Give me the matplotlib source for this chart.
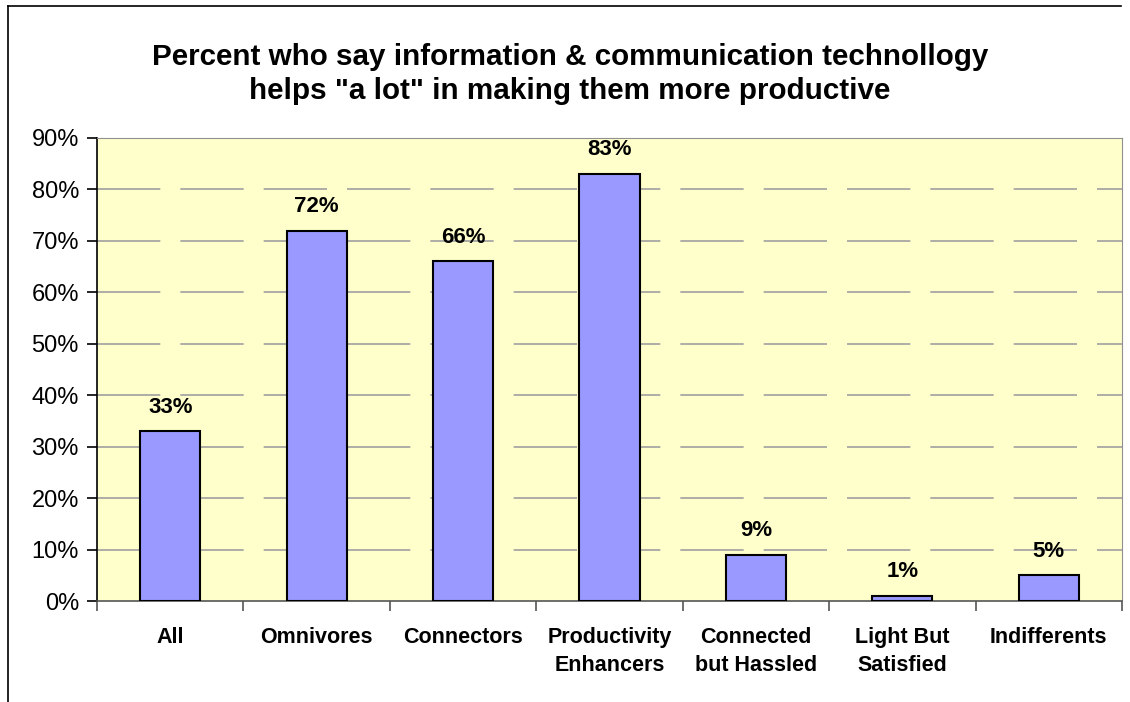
import matplotlib
matplotlib.use("Agg")
import matplotlib.pyplot as plt
from matplotlib.lines import Line2D

categories = ["All", "Omnivores", "Connectors", "Productivity\nEnhancers",
              "Connected\nbut Hassled", "Light But\nSatisfied", "Indifferents"]
values = [33, 72, 66, 83, 9, 1, 5]
yticks = [0, 10, 20, 30, 40, 50, 60, 70, 80, 90]
title = 'Percent who say information & communication technollogy\nhelps "a lot" in making them more productive'

plt.rcParams['font.family'] = ['Liberation Sans', 'DejaVu Sans']

W, H = 1130, 702
fig = plt.figure(figsize=(W / 100, H / 100), dpi=100)
fig.patch.set_facecolor('white')

# plot area in pixels
L, R, T, B = 97, 1122, 138, 601
ax = fig.add_axes([L / W, 1 - B / H, (R - L) / W, (B - T) / H])
ax.set_facecolor('#FFFFCC')

x = list(range(len(categories)))
ax.bar(x, values, width=0.41, color='#9999FF', edgecolor='black', linewidth=1.5, zorder=3)
for xi, v in zip(x, values):
    ax.text(xi, v + 3.6, f"{v}%", ha='center', va='baseline', fontsize=16, fontweight='bold', zorder=4)

ax.set_xlim(-0.5, len(categories) - 0.5)
ax.set_ylim(0, 90)
ax.set_yticks(yticks)
ax.set_yticklabels([f"{t}%" for t in yticks], fontsize=17)
for t in yticks[1:-1]:
    ax.axhline(t, color='#A0A0A0', linewidth=1.2, dashes=(38, 12), zorder=1)

ax.set_xticks([i - 0.5 for i in range(len(categories) + 1)])
ax.set_xticklabels([])
ax.set_xticks(x, minor=True)
ax.set_xticklabels(categories, minor=True, fontsize=15.5, fontweight='bold', linespacing=1.4)
ax.tick_params(axis='x', which='minor', length=0, pad=19)
ax.tick_params(axis='x', which='major', length=7, direction='out', color='#555555', width=1.2)
ax.tick_params(axis='y', length=7, direction='out', width=1.2, pad=6)

ax.spines['left'].set_color('black')
ax.spines['left'].set_linewidth(1.2)
ax.spines['bottom'].set_color('#555555')
ax.spines['bottom'].set_linewidth(1.2)
ax.spines['top'].set_color('#909090')
ax.spines['right'].set_color('#909090')

fig.text(570 / W, 1 - 74 / H, title, ha='center', va='center', fontsize=21.3,
         fontweight='bold', linespacing=1.3)

# figure frame (left and top edges visible)
fig.add_artist(Line2D([8 / W, 8 / W], [0, 1 - 6 / H], transform=fig.transFigure, color='black', linewidth=1.2))
fig.add_artist(Line2D([8 / W, 1121 / W], [1 - 6 / H, 1 - 6 / H], transform=fig.transFigure, color='black', linewidth=1.2))

fig.savefig("out.png", dpi=100, facecolor='white')
